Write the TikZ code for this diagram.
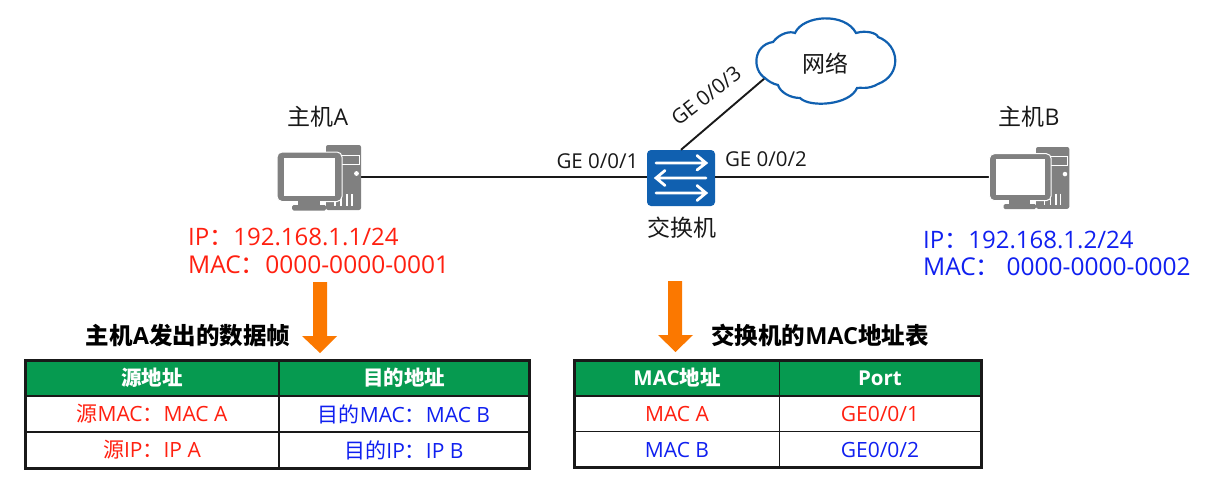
\documentclass[tikz,border=0pt]{standalone}
\usepackage{fontspec}
\setmainfont{Open Sans}
\newfontfamily\cjk{Noto Sans CJK SC}
\definecolor{swblue}{HTML}{1060B0}
\definecolor{pcgray}{HTML}{808080}
\definecolor{hdgreen}{HTML}{069A50}
\definecolor{arrorange}{HTML}{FB7800}
\definecolor{txtred}{HTML}{FF2010}
\definecolor{txtblue}{HTML}{1020F0}
\tikzset{
  lbl/.style={inner sep=0pt,font=\fontsize{23}{27}\selectfont,text=black!90},
  port/.style={inner sep=0pt,font=\fontsize{20.5}{24}\selectfont,text=black!90},
  ttl/.style={inner sep=0pt,font=\bfseries\fontsize{23.5}{28}\selectfont,text=black},
  addr/.style={inner sep=0pt,anchor=west,font=\fontsize{24}{28}\selectfont},
  macaddr/.style={addr,font=\fontsize{24.5}{28}\selectfont},
  hdr/.style={inner sep=0pt,font=\bfseries\fontsize{20.5}{25}\selectfont,text=white},
  cell/.style={inner sep=0pt,font=\fontsize{21}{25}\selectfont},
  link/.style={draw=black!90,line width=1.9pt},
  pcbox/.style={minimum width=84pt,minimum height=65pt,inner sep=0pt},
  frameline/.style={draw=black!90,line width=1.5pt},
  frameout/.style={draw=black!90,line width=3pt},
  bigarrow/.style={fill=arrorange,draw=none},
  swarrow/.style={draw=white,line width=2.8pt,line cap=round},
}
\newcommand{\pcicon}[3]{%
  \begin{scope}[shift={(#1,#2)},scale=#3]
    \fill[pcgray,rounded corners=2pt] (326,145) rectangle (361,210);
    \draw[white,line width=1pt] (341,155) rectangle (359.5,164.5);
    \fill[white] (356.5,173.5) circle (2.4);
    \foreach \vx in {335,341,347,352}{\draw[white,line width=1.5pt] (\vx,194) -- (\vx,206);}
    \fill[pcgray,draw=white,line width=1pt,rounded corners=5pt] (277,152) rectangle (342,201.5);
    \fill[white] (283.5,157.5) rectangle (335,196);
    \fill[pcgray] (298,201) rectangle (320,206);
    \fill[pcgray,rounded corners=1.5pt] (292,205) rectangle (326,210.5);
  \end{scope}}
\begin{document}
\begin{tikzpicture}[x=1pt,y=-1pt]
\fill[white] (0,0) rectangle (1218,498);
\useasboundingbox (0,0) rectangle (1218,498);

% devices
\node[pcbox] (hosta) at (319,177.5) {};
\node[pcbox,minimum width=80pt,minimum height=61pt] (hostb) at (1029.5,177.5) {};
\node[minimum width=68pt,minimum height=56pt,inner sep=0pt,rounded corners=4pt,fill=swblue] (sw) at (681,178) {};
\coordinate (cloudport) at (765,78);
\coordinate (hostbport) at (990,177);
\coordinate (hostaport) at (361,177);

% connectors
\draw[link] (hostaport) -- (sw.west |- hostaport);
\draw[link] (sw.east |- hostbport) -- (hostbport);
\draw[link] (sw.north) -- (cloudport);

\pcicon{0}{0}{1}
\pcicon{726.3}{9.25}{0.95}

% switch arrows
\draw[swarrow] (656,163) -- (706,163) (697,155.5) -- (706,163) -- (697,170);
\draw[swarrow] (706,178) -- (656,178) (665,170.5) -- (656,178) -- (665,185.5);
\draw[swarrow] (656,193) -- (706,193) (697,185.5) -- (706,193) -- (697,200.5);

% cloud
\draw[swblue,fill=white,line width=2.2pt]
  (765,78) .. controls (752,70) and (753,45) .. (773,42)
  .. controls (780,33) and (790,31) .. (795,33)
  .. controls (803,15) and (845,12) .. (856,33)
  .. controls (866,30) and (877,33) .. (878,37)
  .. controls (900,45) and (902,75) .. (878,84)
  .. controls (868,90) and (860,87) .. (857,88)
  .. controls (850,105) and (810,108) .. (800,98)
  .. controls (790,98) and (780,92) .. (778,85)
  .. controls (773,84) and (768,81) .. (765,78) -- cycle;
\node[lbl] (cloudlbl) at (825,64) {\cjk 网络};

% device labels
\node[lbl] (la) at (318,117) {{\cjk 主机}A};
\node[lbl] (lb) at (1029,117) {{\cjk 主机}B};
\node[lbl] (ls) at (682,228) {\cjk 交换机};
\node[port] (p1) at (597.5,161) {GE 0/0/1};
\node[port] (p2) at (766,159) {GE 0/0/2};
\node[port,rotate=38] (p3) at (706,96) {GE 0/0/3};

% addresses
\node[addr,text=txtred] (ipa) at (188,237) {IP{\cjk ：}192.168.1.1/24};
\node[macaddr,text=txtred] (maca) at (188,265) {MAC{\cjk ：}0000-0000-0001};
\node[addr,text=txtblue] (ipb) at (923,240) {IP{\cjk ：}192.168.1.2/24};
\node[macaddr,text=txtblue] (macb) at (923,267) {MAC{\cjk ：} 0000-0000-0002};

% big arrows
\fill[bigarrow] (313,282) -- (327,282) -- (327,336) -- (337,336) -- (320,353) -- (302,336) -- (313,336) -- cycle;
\fill[bigarrow] (668,281) -- (682,281) -- (682,335) -- (693,335) -- (675.5,352) -- (658,335) -- (668,335) -- cycle;

% titles
\node[ttl] (ta) at (188,336) {{\cjk 主机}A{\cjk 发出的数据帧}};
\node[ttl] (tb) at (820,335) {{\cjk 交换机的}MAC{\cjk 地址表}};

% left table
\fill[hdgreen] (25,360) rectangle (529,396);
\draw[frameline] (25,396) -- (529,396) (25,432) -- (529,432) (279,360) -- (279,468);
\draw[frameout] (25,360) rectangle (529,468);
\node[hdr] (a1) at (152,378) {\cjk 源地址};
\node[hdr] (a2) at (404,378) {\cjk 目的地址};
\node[cell,text=txtred] (a3) at (152,414) {{\cjk 源}MAC{\cjk ：}MAC A};
\node[cell,text=txtblue] (a4) at (404,414) {{\cjk 目的}MAC{\cjk ：}MAC B};
\node[cell,text=txtred] (a5) at (152,450) {{\cjk 源}IP{\cjk ：}IP A};
\node[cell,text=txtblue] (a6) at (404,450) {{\cjk 目的}IP{\cjk ：}IP B};

% right table
\fill[hdgreen] (574,360) rectangle (981,396);
\draw[frameline] (574,396) -- (981,396) (574,431.5) -- (981,431.5) (779.5,360) -- (779.5,467);
\draw[frameout] (574,360) rectangle (981,467);
\node[hdr] (b1) at (677,378) {MAC{\cjk 地址}};
\node[hdr] (b2) at (880,378) {Port};
\node[cell,text=txtred] (b3) at (677,414) {MAC A};
\node[cell,text=txtred] (b4) at (880,414) {GE0/0/1};
\node[cell,text=txtblue] (b5) at (677,450) {MAC B};
\node[cell,text=txtblue] (b6) at (880,450) {GE0/0/2};
\end{tikzpicture}
\end{document}
